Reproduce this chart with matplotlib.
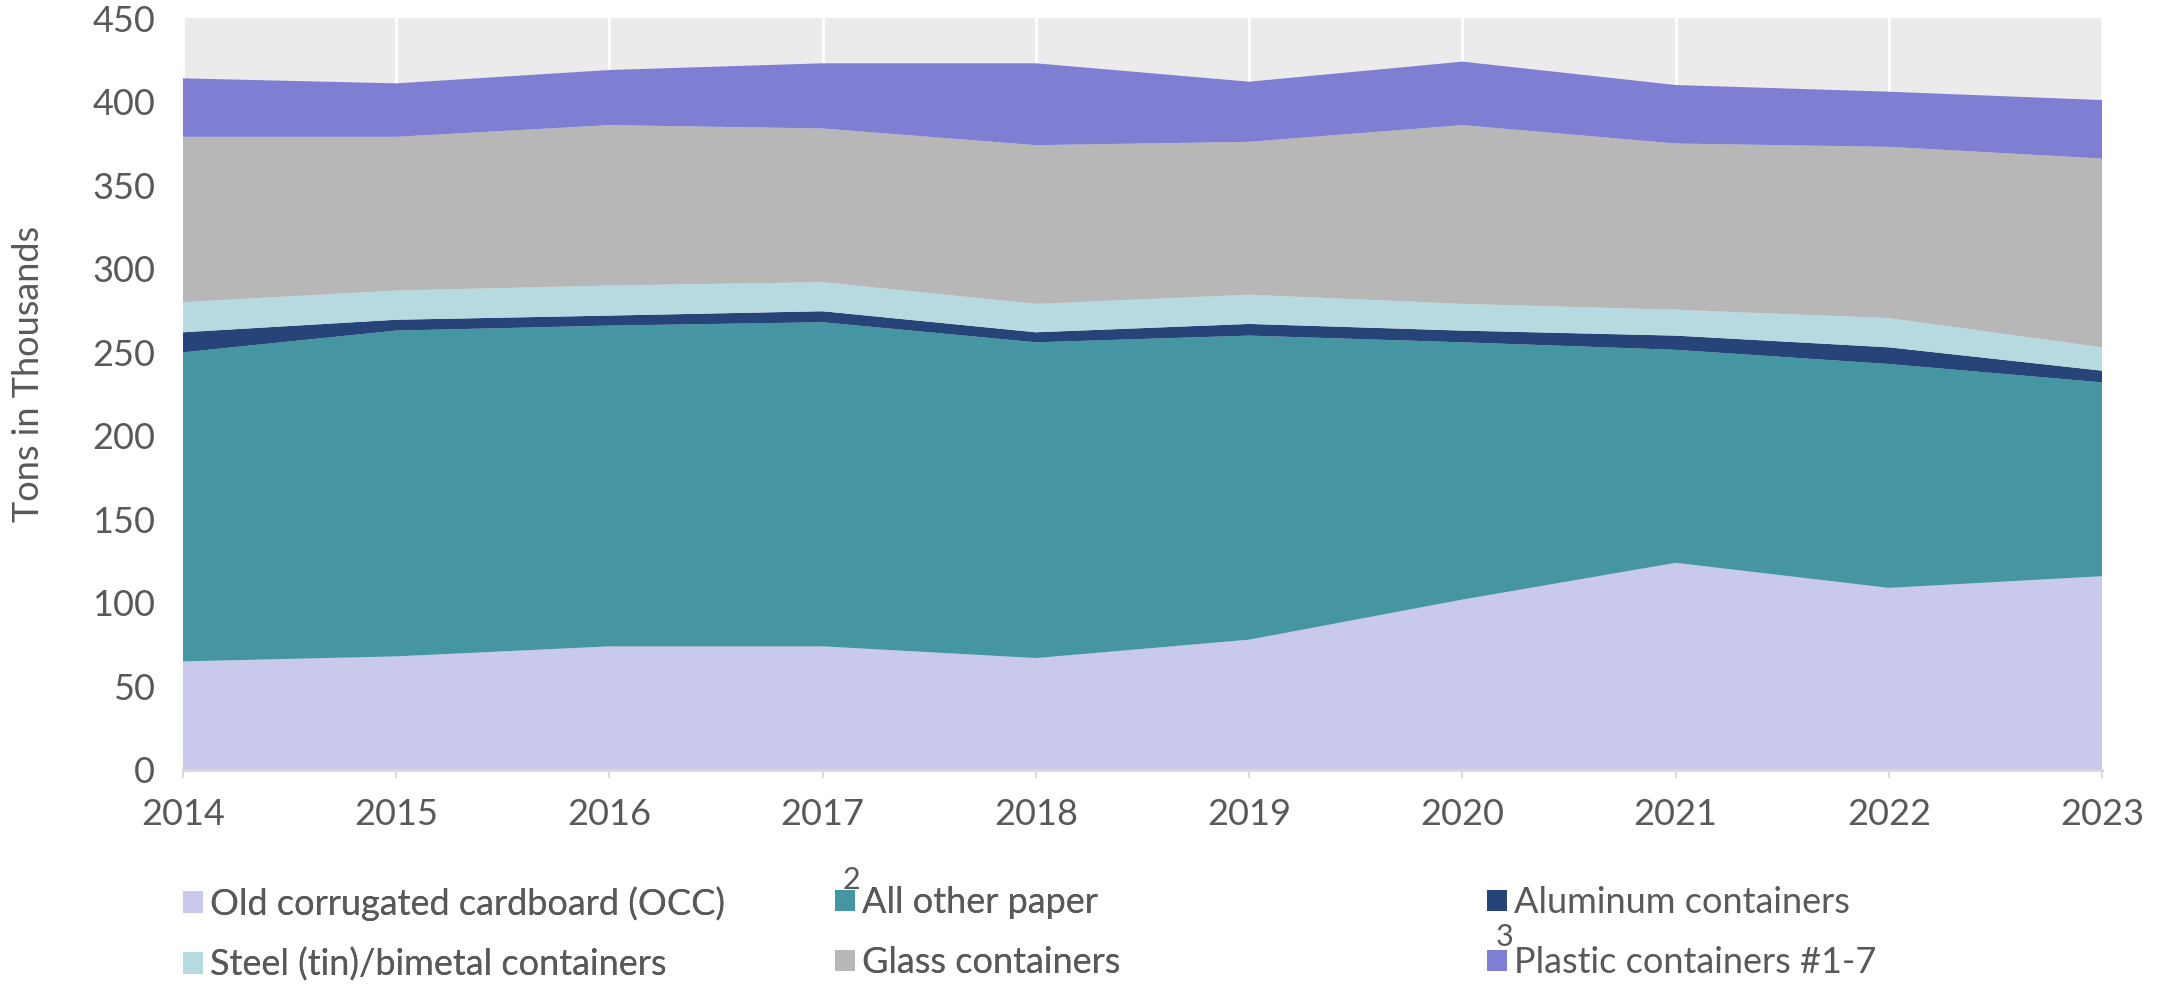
import matplotlib.pyplot as plt
from matplotlib.patches import Patch
import numpy as np

years = [2014, 2015, 2016, 2017, 2018, 2019, 2020, 2021, 2022, 2023]

# tons in thousands
occ = [65, 68, 74, 74, 67, 78, 102, 124, 109, 116]
other_paper = [185, 195, 192, 194, 189, 182, 154, 127.5, 134, 116]
aluminum = [12, 6.5, 6, 6.6, 6, 7, 7, 8.5, 10, 7]
steel = [18, 17.5, 18, 17.4, 17, 17.5, 16, 15.5, 17.5, 14]
glass = [99, 92, 96, 92, 95, 91.5, 107, 99.5, 102.5, 113]
plastic = [35, 32, 33, 39, 49, 36, 38, 35, 33, 35]

labels = ["Old corrugated cardboard (OCC)", "All other paper", "Aluminum containers",
          "Steel (tin)/bimetal containers", "Glass containers", "Plastic containers #1-7"]
colors = ["#C9C9EC", "#4595A2", "#264478", "#B6DAE0", "#B7B7B7", "#7F7ED3"]

txt = "#595959"
plt.rcParams['font.family'] = ['Lato', 'DejaVu Sans']

fig = plt.figure(figsize=(21.65, 9.84), dpi=100)
ax = fig.add_axes([0.0845, 0.2175, 0.8865, 0.764])
ax.set_facecolor("#EBEBEB")

ax.stackplot(years, occ, other_paper, aluminum, steel, glass, plastic,
             colors=colors, linewidth=0)

ax.set_xlim(2014, 2023)
ax.set_ylim(0, 450)
ax.set_xticks(years)
ax.set_yticks(np.arange(0, 451, 50))
ax.grid(axis="x", color="white", linewidth=2)
ax.set_axisbelow(True)
for s in ["top", "right", "left"]:
    ax.spines[s].set_visible(False)
ax.spines["bottom"].set_color("#D9D9D9")
ax.spines["bottom"].set_linewidth(2)
ax.tick_params(axis="x", color="#D9D9D9", length=6, width=1.5, pad=14, labelsize=26)
ax.tick_params(axis="y", length=0, pad=20, labelsize=26)
for lab in ax.get_xticklabels() + ax.get_yticklabels():
    lab.set_color(txt)

fig.text(0.013, 0.62, "Tons in Thousands", rotation=90, ha="center", va="center",
         fontsize=26, color=txt)

# legend: three fixed columns, two rows
handles = [Patch(facecolor=c, edgecolor="none") for c in colors]
col_x = [0.078, 0.379, 0.680]
for i in range(3):
    lg = fig.legend([handles[i], handles[i + 3]], [labels[i], labels[i + 3]],
                    loc="upper left", bbox_to_anchor=(col_x[i], 0.114),
                    ncol=1, frameon=False, fontsize=26, labelcolor=txt,
                    handlelength=0.55, handleheight=0.55, handletextpad=0.2,
                    labelspacing=0.75, borderaxespad=0)
    if i < 2:
        fig.add_artist(lg)

# footnote markers as they appear in the original
fig.text(0.3935, 0.106, "2", fontsize=22, color=txt, ha="center", va="center")
fig.text(0.695, 0.048, "3", fontsize=22, color=txt, ha="center", va="center")

fig.savefig("out.png", dpi=100)
